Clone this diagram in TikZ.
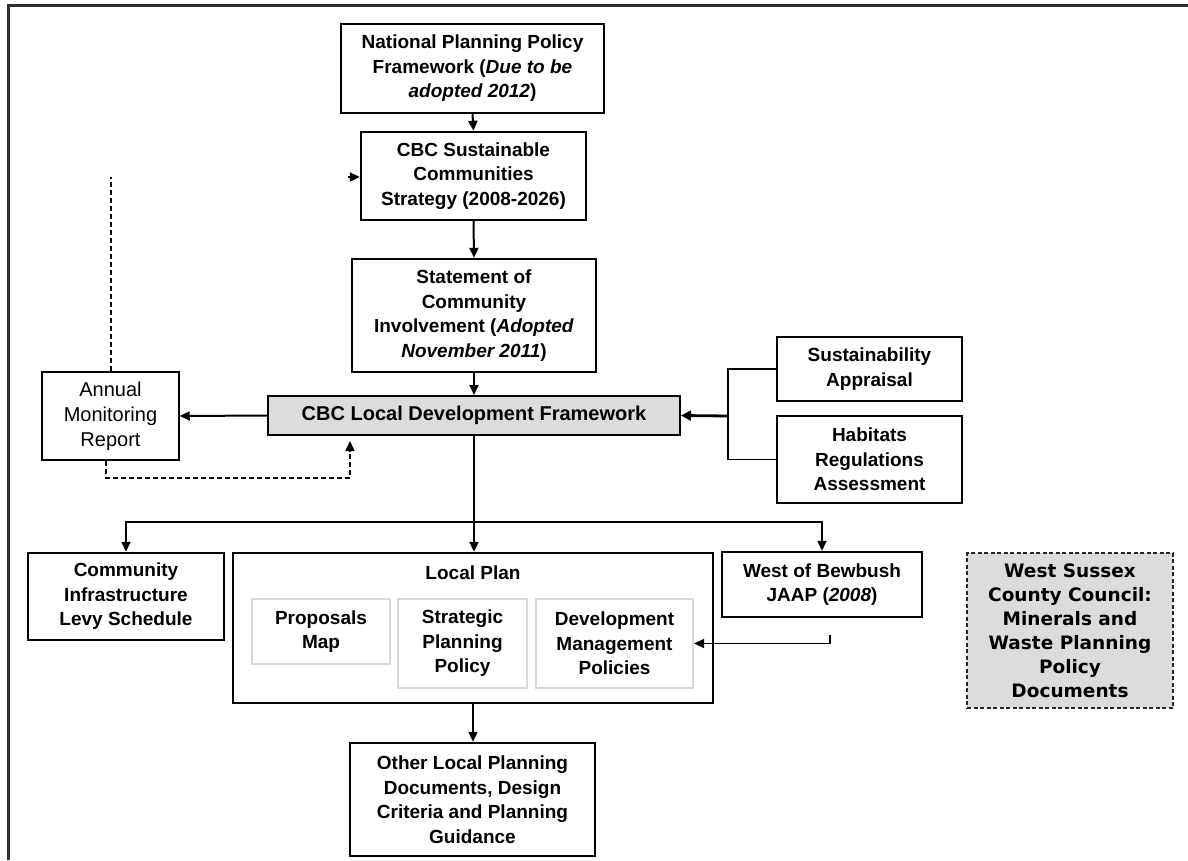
\documentclass[tikz,border=0pt]{standalone}
\usepackage{fontspec}
\setmainfont{Liberation Sans}
\newfontfamily\wsfont{DejaVu Sans}
\usetikzlibrary{arrows.meta,calc}
\definecolor{boxgray}{HTML}{DCDCDC}
\definecolor{innergray}{HTML}{D8D8D8}
\definecolor{framegray}{HTML}{303030}
\begin{document}
\begin{tikzpicture}[x=1pt,y=-1pt,
  box/.style={draw=black,line width=2.4pt,fill=white,align=center,inner sep=0pt,
    font=\fontsize{19}{24.5}\selectfont\bfseries},
  thinbox/.style={draw=black,line width=1.5pt,fill=white,align=center,inner sep=0pt,
    font=\fontsize{20}{25}\selectfont},
  innerbox/.style={draw=innergray,line width=2.2pt,fill=white,align=center,inner sep=0pt,
    font=\fontsize{19}{24.5}\selectfont\bfseries},
  graybox/.style={draw=black,line width=2pt,fill=boxgray,align=center,inner sep=0pt,
    font=\fontsize{20}{24}\selectfont\bfseries},
  wsbox/.style={draw=black!85,line width=1.6pt,dash pattern=on 4pt off 2.5pt,fill=boxgray,
    align=center,inner sep=0pt,font=\fontsize{18.5}{24}\selectfont\wsfont\bfseries},
  arr/.style={line width=2pt,-{Triangle[length=10pt,width=9pt]}},
  thinarr/.style={line width=1.5pt,-{Triangle[length=10pt,width=9pt]}},
  dasharr/.style={line width=1.5pt,dash pattern=on 5pt off 3pt,-{Triangle[length=10pt,width=9pt]}},
  dashline/.style={line width=1.5pt,dash pattern=on 5pt off 3pt},
]
\useasboundingbox (0,0) rectangle (1188,860);
\fill[white] (0,0) rectangle (1188,860);
% outer frame
\draw[line width=3pt,draw=framegray] (1188,5) -- (8,5) -- (8,860);

% nodes
\node[box,minimum width=263pt,minimum height=89pt] (nppf) at (472.5,68.5)
  {National Planning Policy\\ Framework (\textit{Due to be}\\ \textit{adopted 2012})};
\node[box,minimum width=225pt,minimum height=88pt] (scs) at (473.5,176)
  {CBC Sustainable\\ Communities\\ Strategy (2008-2026)};
\node[box,minimum width=244pt,minimum height=113pt] (sci) at (474,315.5)
  {Statement of\\ Community\\ Involvement (\textit{Adopted}\\ \textit{November 2011})};
\node[graybox,minimum width=412pt,minimum height=39pt] (ldf) at (474,415.5)
  {CBC Local Development Framework};
\node[thinbox,minimum width=137pt,minimum height=88pt] (amr) at (110.5,416)
  {Annual\\ Monitoring\\ Report};
\node[box,minimum width=185pt,minimum height=64pt] (sa) at (869.5,369)
  {Sustainability\\ Appraisal};
\node[box,minimum width=185pt,minimum height=87pt] (hra) at (869.5,459.5)
  {Habitats\\ Regulations\\ Assessment};
\node[box,minimum width=196pt,minimum height=87pt] (cil) at (126,596.5)
  {Community\\ Infrastructure\\ Levy Schedule};
\node[box,minimum width=480pt,minimum height=150pt] (lp) at (473,628) {};
\node[font=\fontsize{19}{24.5}\selectfont\bfseries,inner sep=0pt] (lptitle) at (473,573) {Local Plan};
\node[innerbox,minimum width=138pt,minimum height=65pt] (pm) at (321,631.5)
  {Proposals\\ Map};
\node[innerbox,minimum width=129pt,minimum height=89pt] (spp) at (462.5,643.5)
  {Strategic\\ Planning\\ Policy};
\node[innerbox,minimum width=157pt,minimum height=89pt] (dmp) at (614.5,643.5)
  {Development\\ Management\\ Policies};
\node[box,minimum width=200pt,minimum height=65pt] (wob) at (822,584.5)
  {West of Bewbush\\ JAAP (\textit{2008})};
\node[wsbox,minimum width=206pt,minimum height=155pt] (ws) at (1070,630.5)
  {West Sussex\\ County Council:\\ Minerals and\\ Waste Planning\\ Policy\\ Documents};
\node[box,minimum width=245pt,minimum height=113pt] (other) at (472.5,799.5)
  {Other Local Planning\\ Documents, Design\\ Criteria and Planning\\ Guidance};

% helper coordinates
\coordinate (amrtop) at (111,177);
\coordinate (scsin) at (348,177);
\coordinate (dashturn) at (350,478);
\coordinate (brk) at (728,416);
\coordinate (br) at (474,522);
\coordinate (wobout) at (830,635);

% vertical chain
\draw[arr] (nppf.south) -- (scs.north);
\draw[arr] (scs.south) -- (sci.north);
\draw[arr] (sci.south) -- (ldf.north);
\draw[arr] (ldf.south) -- (ldf.south |- lp.north);
\draw[arr] (lp.south) -- (lp.south |- other.north);

% LDF -> AMR
\draw[arr] (ldf.west) -- (amr.east);
% AMR dashed feedback
\draw[dashline] (amr.north -| amrtop) -- (amrtop);
\draw[arr] (scsin) -- (scs.west |- scsin);
\draw[dasharr,shorten >=5pt] ([xshift=-4.5pt]amr.south) |- (dashturn) -- (dashturn |- ldf.south);

% SA / HRA bracket
\draw[line width=1.5pt] (sa.west) -| (brk) |- (hra.west);
\draw[line width=2.8pt,-{Triangle[length=10pt,width=10pt]}] (brk) -- (ldf.east);

% branches
\draw[thinarr] (br) -| (cil.north);
\draw[thinarr] (br) -| (wob.north);

% WoB -> DMP
\draw[thinarr] (wobout) |- (dmp.east);
\end{tikzpicture}
\end{document}
